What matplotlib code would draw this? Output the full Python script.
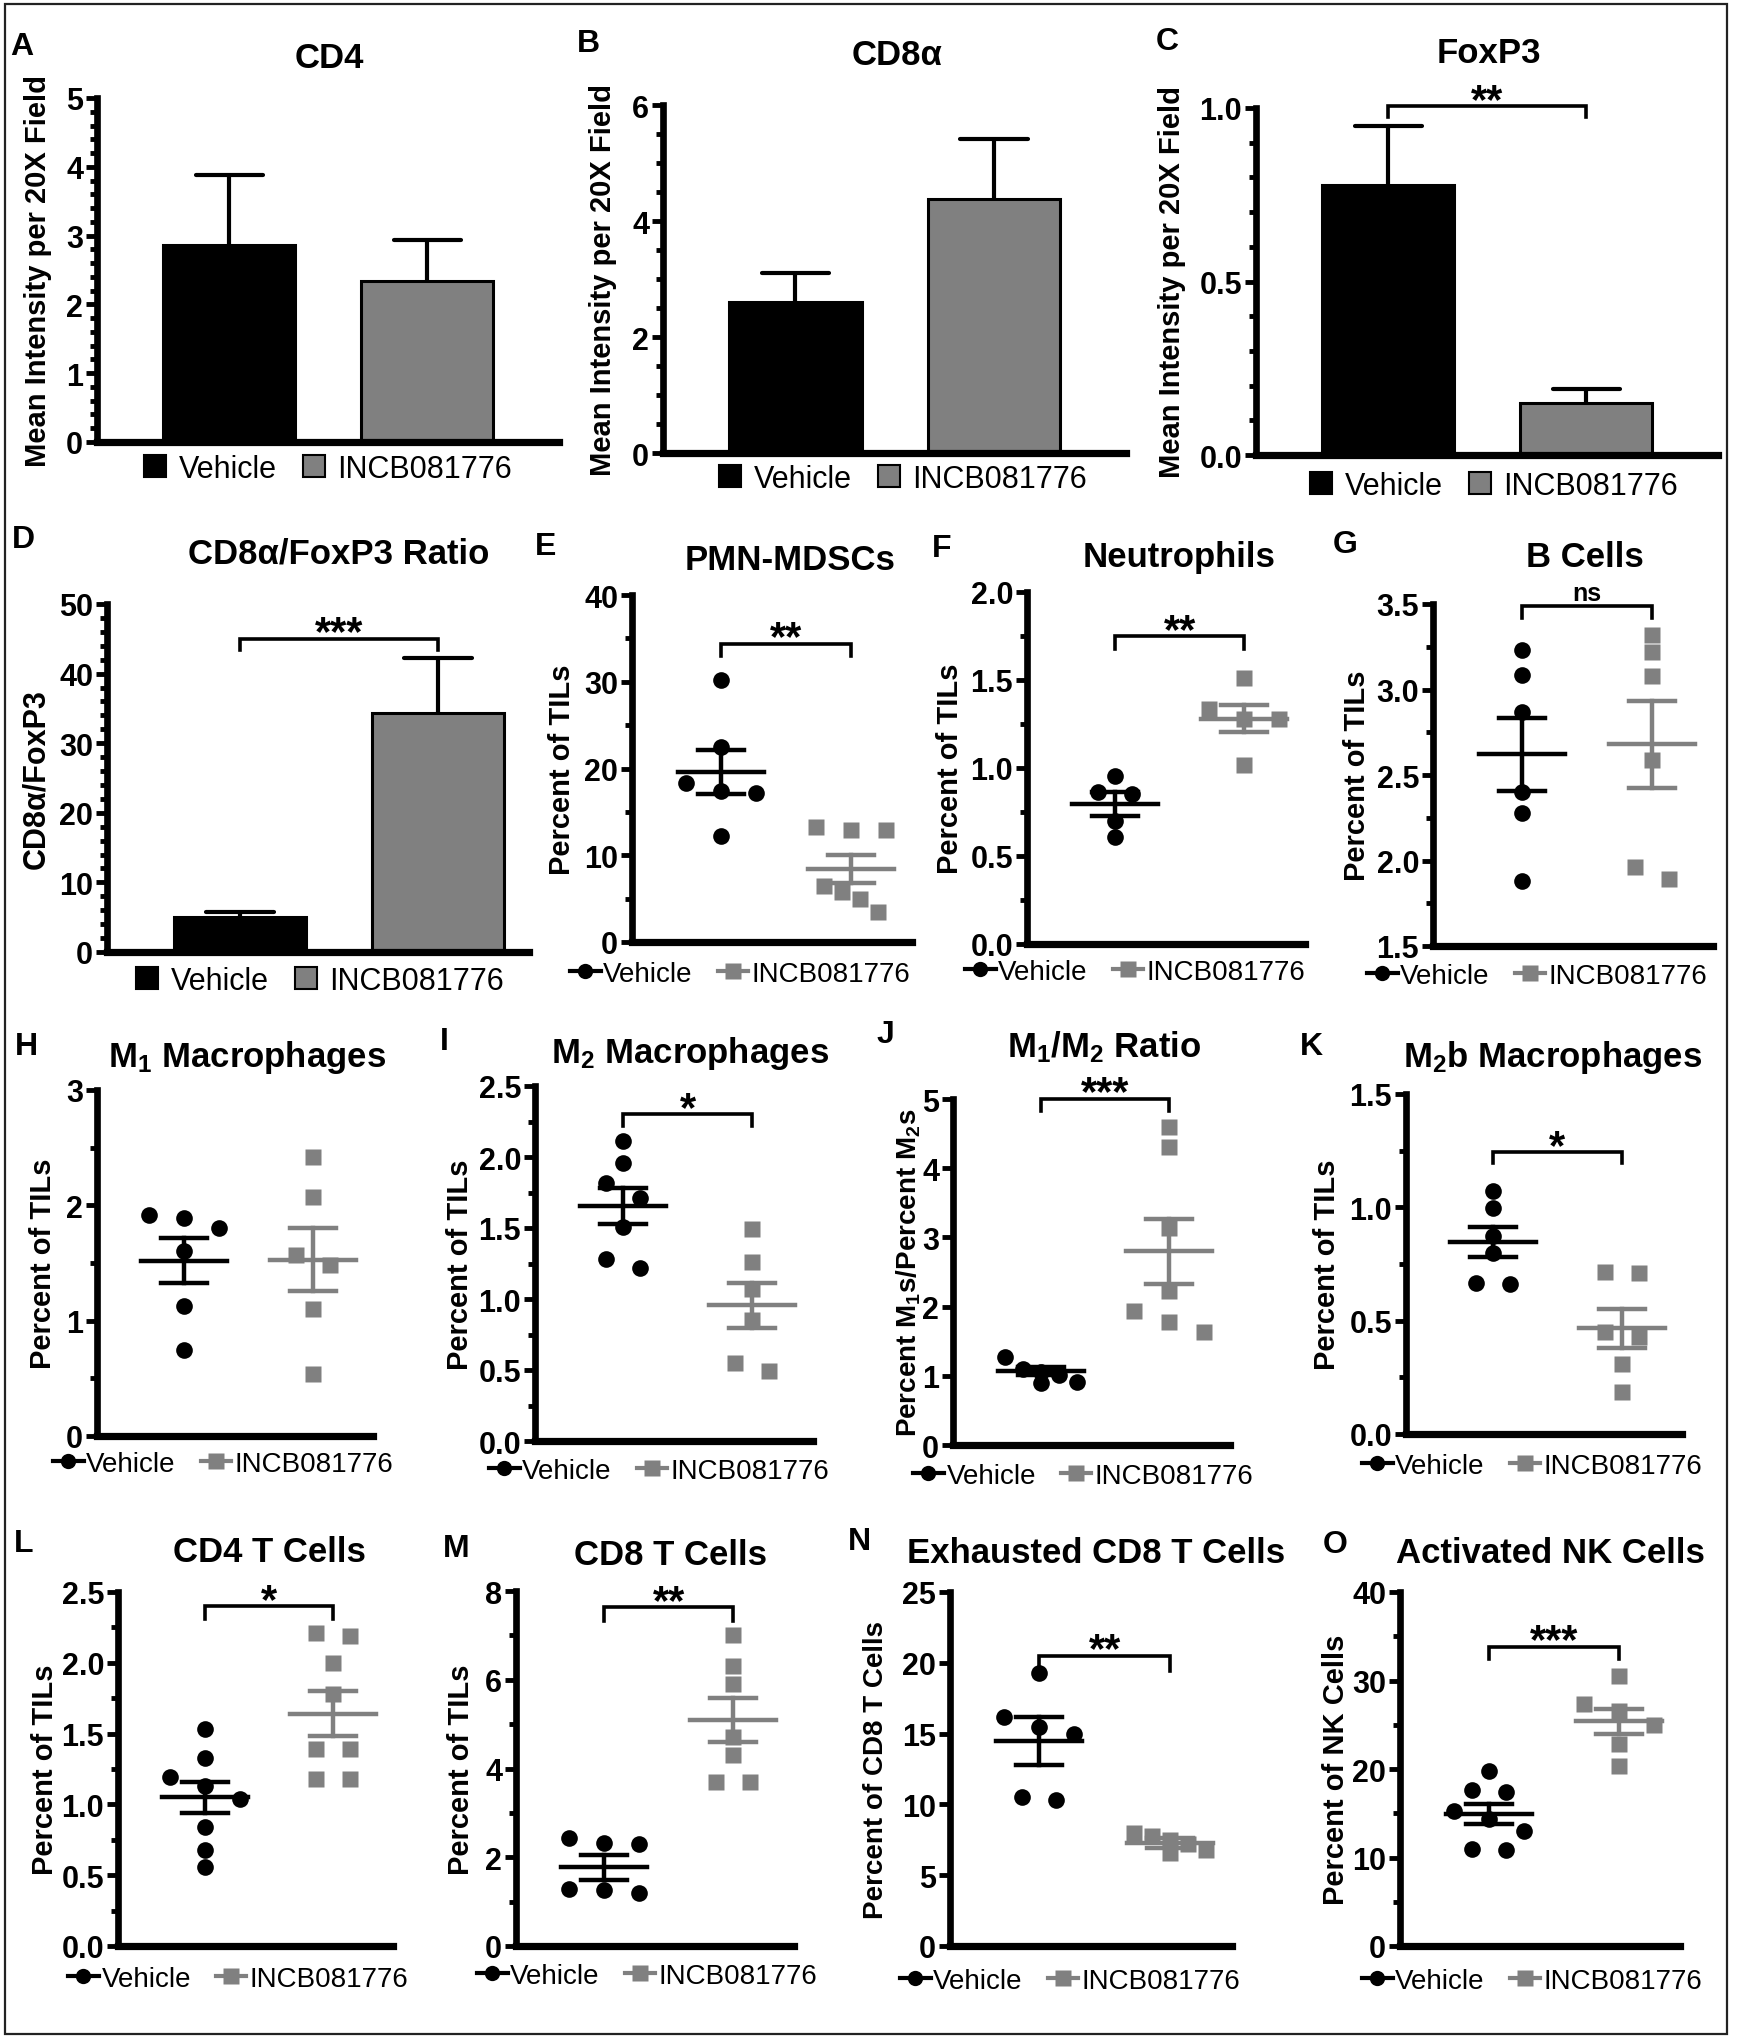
import numpy as np
import matplotlib
matplotlib.use('Agg')
import matplotlib.pyplot as plt
from matplotlib.lines import Line2D
from matplotlib.patches import Patch, Rectangle
from matplotlib.ticker import MultipleLocator, FormatStrFormatter

plt.rcParams['font.family'] = ['Liberation Sans', 'DejaVu Sans']
plt.rcParams['mathtext.fontset'] = 'custom'
plt.rcParams['mathtext.rm'] = 'Liberation Sans:bold'
plt.rcParams['mathtext.it'] = 'Liberation Sans:bold'
plt.rcParams['mathtext.bf'] = 'Liberation Sans:bold'
plt.rcParams['mathtext.default'] = 'rm'

W, H = 1749, 2040
GREY = '#808080'
groups = ['Vehicle', 'INCB081776']

# ---- bar panels (mean, SEM) ----
cd4_mean = [2.86, 2.34]
cd4_sem = [1.02, 0.60]
cd8a_mean = [2.61, 4.38]
cd8a_sem = [0.50, 1.03]
foxp3_mean = [0.779, 0.150]
foxp3_sem = [0.168, 0.040]
ratio_mean = [5.0, 34.4]
ratio_sem = [0.7, 7.9]

# ---- scatter panels (individual points, mean, SEM) ----
pmn_veh = [30.2, 22.5, 18.3, 17.4, 17.2, 12.2]
pmn_trt = [12.9, 13.2, 12.9, 6.5, 5.8, 5.0, 3.5]
pmn_mean = [19.6, 8.4]
pmn_sem = [2.5, 1.65]

neut_veh = [0.956, 0.862, 0.852, 0.70, 0.606]
neut_trt = [1.51, 1.335, 1.28, 1.28, 1.017]
neut_mean = [0.795, 1.28]
neut_sem = [0.068, 0.078]

bcell_veh = [3.23, 3.086, 2.87, 2.40, 2.275, 1.88]
bcell_trt = [3.32, 3.22, 3.08, 2.59, 1.96, 1.89]
bcell_mean = [2.62, 2.68]
bcell_sem = [0.215, 0.255]

m1_veh = [1.92, 1.89, 1.80, 1.60, 1.13, 0.75]
m1_trt = [2.42, 2.07, 1.57, 1.48, 1.10, 0.54]
m1_mean = [1.52, 1.53]
m1_sem = [0.195, 0.275]

m2_veh = [2.11, 1.955, 1.82, 1.71, 1.505, 1.28, 1.22]
m2_trt = [1.49, 1.26, 1.07, 0.85, 0.55, 0.49]
m2_mean = [1.655, 0.955]
m2_sem = [0.13, 0.16]

m1m2_veh = [1.27, 1.10, 1.06, 1.01, 0.906, 0.90]
m1m2_trt = [4.60, 4.30, 3.13, 2.23, 1.93, 1.78, 1.63]
m1m2_mean = [1.07, 2.80]
m1m2_sem = [0.055, 0.47]

m2b_veh = [1.074, 0.996, 0.875, 0.80, 0.665, 0.66]
m2b_trt = [0.715, 0.71, 0.45, 0.43, 0.31, 0.187]
m2b_mean = [0.849, 0.466]
m2b_sem = [0.066, 0.085]

cd4t_veh = [1.53, 1.33, 1.19, 1.13, 1.04, 0.84, 0.68, 0.56]
cd4t_trt = [2.21, 2.19, 2.0, 1.78, 1.39, 1.39, 1.18, 1.18]
cd4t_mean = [1.05, 1.64]
cd4t_sem = [0.11, 0.16]

cd8t_veh = [2.44, 2.33, 2.29, 1.28, 1.26, 1.20]
cd8t_trt = [7.0, 6.3, 5.9, 4.7, 4.3, 3.7, 3.7]
cd8t_mean = [1.77, 5.09]
cd8t_sem = [0.29, 0.50]

exh_veh = [19.3, 16.2, 15.5, 15.0, 10.5, 10.3]
exh_trt = [8.0, 7.8, 7.5, 7.2, 6.8, 6.6]
exh_mean = [14.5, 7.3]
exh_sem = [1.7, 0.35]

nk_veh = [19.8, 17.6, 17.4, 15.2, 14.3, 13.0, 11.0, 10.8]
nk_trt = [30.5, 27.3, 26.5, 25.0, 22.8, 20.3]
nk_mean = [14.9, 25.4]
nk_sem = [1.15, 1.4]

fig = plt.figure(figsize=(W / 100, H / 100), dpi=100)


def px_ax(x0, x1, yt, yb):
    return fig.add_axes([x0 / W, 1 - yb / H, (x1 - x0) / W, (yb - yt) / H])


def style(ax, ylim, major, minor, fmt):
    ax.set_ylim(*ylim)
    ax.set_yticks(np.arange(ylim[0], ylim[1] + major / 2, major))
    if minor:
        ax.yaxis.set_minor_locator(MultipleLocator(minor))
    ax.yaxis.set_major_formatter(FormatStrFormatter(fmt))
    ax.spines[['top', 'right']].set_visible(False)
    ax.spines['left'].set_linewidth(4.8)
    ax.spines['bottom'].set_linewidth(5.2)
    ax.set_xticks([])
    ax.tick_params(axis='y', which='major', length=8, width=3.5, labelsize=22, pad=2)
    ax.tick_params(axis='y', which='minor', length=5, width=3.5)
    for lab in ax.get_yticklabels():
        lab.set_fontweight('bold')
    ax.patch.set_alpha(0)


def bracket(ax, x0, x1, y, tip, text):
    ax.plot([x0, x0, x1, x1], [tip, y, y, tip], color='black', lw=2.6,
            clip_on=False, solid_joinstyle='miter')
    if text == 'ns':
        ax.annotate(text, xy=((x0 + x1) / 2, y), xytext=(0, 4), textcoords='offset points',
                    ha='center', va='baseline', fontsize=18, fontweight='bold',
                    annotation_clip=False)
    else:
        ax.annotate(text, xy=((x0 + x1) / 2, y), xytext=(0, -4), textcoords='offset points',
                    ha='center', va='baseline', fontsize=30, fontweight='bold',
                    annotation_clip=False)


def texts(p):
    fig.text(p['letter'][0] / W, 1 - p['letter'][1] / H, p['L'], fontsize=23,
             fontweight='bold', ha='left', va='baseline')
    fig.text(p['title'][0] / W, 1 - p['title'][1] / H, p['t'], fontsize=25,
             fontweight='bold', ha='center', va='baseline')
    x0, x1, yt, yb = p['box']
    fig.text(p['ylx'] / W, 1 - (yt + yb) / 2 / H, p['yl'], fontsize=p.get('yls', 21),
             fontweight='bold', rotation=90, ha='center', va='center')


def swarm(vals, ppu, d=16.0):
    vals = np.asarray(vals, float)
    order = np.argsort(-vals, kind='stable')
    rows, cur = [], [order[0]]
    for i in order[1:]:
        if (vals[cur[-1]] - vals[i]) * ppu < d and len(cur) < 5:
            cur.append(i)
        else:
            rows.append(cur)
            cur = [i]
    rows.append(cur)
    offs = np.zeros(len(vals))
    for row in rows:
        k = len(row)
        if k == 1:
            pos = [0]
        elif k == 2:
            pos = [-17, 17]
        elif k == 3:
            pos = [-35, 0, 35]
        else:
            pos = (np.arange(k) - (k - 1) / 2) * 18
        for i, q in zip(row, pos):
            offs[i] = q
    return offs


bar_panels = [
    dict(L='A', t='CD4', yl='Mean Intensity per 20X Field', box=(97, 559, 99, 443),
         means=cd4_mean, sems=cd4_sem, ylim=(0, 5), major=1, minor=0.2, fmt='%d',
         letter=(10, 55), title=(329, 68), ylx=38, leg=(328, 470), xlim=(-0.667, 1.664)),
    dict(L='B', t='CD8α', yl='Mean Intensity per 20X Field', box=(663, 1126, 106, 454),
         means=cd8a_mean, sems=cd8a_sem, ylim=(0, 6), major=2, minor=0.5, fmt='%d',
         letter=(577, 52), title=(897, 65), ylx=603, leg=(903, 480), xlim=(-0.667, 1.664)),
    dict(L='C', t='FoxP3', yl='Mean Intensity per 20X Field', box=(1256, 1718, 109, 456),
         means=foxp3_mean, sems=foxp3_sem, ylim=(0, 1.0), major=0.5, minor=0.1, fmt='%.1f',
         letter=(1156, 50), title=(1489, 63), ylx=1172, leg=(1494, 487), xlim=(-0.667, 1.664),
         br=(1.005, 0.974, '**')),
    dict(L='D', t='CD8α/FoxP3 Ratio', yl='CD8α/FoxP3', box=(107, 529, 605, 953),
         means=ratio_mean, sems=ratio_sem, ylim=(0, 50), major=10, minor=2, fmt='%d',
         letter=(12, 548), title=(339, 563), ylx=36, leg=(320, 982), xlim=(-0.672, 1.46),
         br=(45.0, 43.4, '***'), yls=22),
]

for p in bar_panels:
    x0, x1, yt, yb = p['box']
    ax = px_ax(x0, x1, yt, yb)
    pos = [0, 1]
    ax.bar(pos, p['means'], width=0.667, color=['black', GREY], edgecolor='black',
           linewidth=2.2, zorder=2)
    for q, m, s in zip(pos, p['means'], p['sems']):
        ax.plot([q, q], [m, m + s], color='black', lw=3, zorder=3, solid_capstyle='butt')
        ax.plot([q - 0.17, q + 0.17], [m + s, m + s], color='black', lw=3, zorder=3,
                solid_capstyle='round')
    ax.set_xlim(*p['xlim'])
    style(ax, p['ylim'], p['major'], p['minor'], p['fmt'])
    if 'br' in p:
        bracket(ax, 0, 1, *p['br'])
    handles = [Patch(facecolor='black', edgecolor='black', linewidth=1.5),
               Patch(facecolor=GREY, edgecolor='black', linewidth=1.5)]
    ax.legend(handles, groups, loc='center', bbox_to_anchor=(p['leg'][0] / W, 1 - p['leg'][1] / H),
              bbox_transform=fig.transFigure, ncol=2, frameon=False, fontsize=22,
              handlelength=0.72, handleheight=0.72, handletextpad=0.4, columnspacing=0.85,
              borderpad=0, borderaxespad=0)
    texts(p)

scatter_panels = [
    dict(L='E', t='PMN-MDSCs', yl='Percent of TILs', box=(632, 912, 596, 943),
         veh=pmn_veh, trt=pmn_trt, mean=pmn_mean, sem=pmn_sem, ylim=(0, 40), major=10,
         minor=5, fmt='%d', letter=(535, 555), title=(790, 570), ylx=562, leg=(740, 975),
         br=(34.4, 33.0, '**')),
    dict(L='F', t='Neutrophils', yl='Percent of TILs', box=(1027, 1305, 593, 945),
         veh=neut_veh, trt=neut_trt, mean=neut_mean, sem=neut_sem, ylim=(0, 2.0), major=0.5,
         minor=0.25, fmt='%.1f', letter=(932, 557), title=(1179, 567), ylx=950, leg=(1135, 973),
         br=(1.748, 1.676, '**')),
    dict(L='G', t='B Cells', yl='Percent of TILs', box=(1433, 1713, 605, 947),
         veh=bcell_veh, trt=bcell_trt, mean=bcell_mean, sem=bcell_sem, ylim=(1.5, 3.5),
         major=0.5, minor=0.25, fmt='%.1f', letter=(1333, 553), title=(1585, 567), ylx=1357,
         leg=(1537, 977), br=(3.49, 3.42, 'ns')),
    dict(L='H', t='M$_1$ Macrophages', yl='Percent of TILs', box=(97, 373, 1091, 1437),
         veh=m1_veh, trt=m1_trt, mean=m1_mean, sem=m1_sem, ylim=(0, 3), major=1, minor=0.5,
         fmt='%d', letter=(15, 1055), title=(247, 1067), ylx=43, leg=(223, 1465)),
    dict(L='I', t='M$_2$ Macrophages', yl='Percent of TILs', box=(535, 813, 1087, 1442),
         veh=m2_veh, trt=m2_trt, mean=m2_mean, sem=m2_sem, ylim=(0, 2.5), major=0.5,
         minor=0.25, fmt='%.1f', letter=(440, 1050), title=(690, 1063), ylx=460, leg=(659, 1472),
         br=(2.30, 2.22, '*')),
    dict(L='J', t='M$_1$/M$_2$ Ratio', yl='Percent M$_1$s/Percent M$_2$s', box=(953, 1230, 1100, 1446),
         veh=m1m2_veh, trt=m1m2_trt, mean=m1m2_mean, sem=m1m2_sem, ylim=(0, 5), major=1,
         minor=None, fmt='%d', letter=(877, 1043), title=(1104, 1057), ylx=909, leg=(1083, 1477),
         br=(5.0, 4.83, '***'), yls=20),
    dict(L='K', t='M$_2$b Macrophages', yl='Percent of TILs', box=(1406, 1682, 1095, 1435),
         veh=m2b_veh, trt=m2b_trt, mean=m2b_mean, sem=m2b_sem, ylim=(0, 1.5), major=0.5,
         minor=0.25, fmt='%.1f', letter=(1300, 1055), title=(1553, 1067), ylx=1327,
         leg=(1532, 1467), br=(1.243, 1.195, '*')),
    dict(L='L', t='CD4 T Cells', yl='Percent of TILs', box=(118, 393, 1593, 1947),
         veh=cd4t_veh, trt=cd4t_trt, mean=cd4t_mean, sem=cd4t_sem, ylim=(0, 2.5), major=0.5,
         minor=0.25, fmt='%.1f', letter=(14, 1552), title=(269, 1562), ylx=45, leg=(238, 1980),
         br=(2.40, 2.31, '*')),
    dict(L='M', t='CD8 T Cells', yl='Percent of TILs', box=(516, 794, 1592, 1947),
         veh=cd8t_veh, trt=cd8t_trt, mean=cd8t_mean, sem=cd8t_sem, ylim=(0, 8), major=2,
         minor=1, fmt='%d', letter=(443, 1557), title=(671, 1565), ylx=461, leg=(647, 1977),
         br=(7.63, 7.33, '**')),
    dict(L='N', t='Exhausted CD8 T Cells', yl='Percent of CD8 T Cells', box=(950, 1232, 1593, 1947),
         veh=exh_veh, trt=exh_trt, mean=exh_mean, sem=exh_sem, ylim=(0, 25), major=5,
         minor=None, fmt='%d', letter=(848, 1550), title=(1096, 1563), ylx=876, leg=(1070, 1982),
         br=(20.5, 19.4, '**'), yls=20),
    dict(L='O', t='Activated NK Cells', yl='Percent of NK Cells', box=(1400, 1680, 1593, 1947),
         veh=nk_veh, trt=nk_trt, mean=nk_mean, sem=nk_sem, ylim=(0, 40), major=10,
         minor=5, fmt='%d', letter=(1323, 1553), title=(1550, 1563), ylx=1336, leg=(1532, 1982),
         br=(33.8, 32.4, '***')),
]

XL = (-0.68, 1.47)
for p in scatter_panels:
    x0, x1, yt, yb = p['box']
    ax = px_ax(x0, x1, yt, yb)
    ax.set_xlim(*XL)
    dpp = (XL[1] - XL[0]) / (x1 - x0)          # data units per pixel (x)
    ppu = (yb - yt) / (p['ylim'][1] - p['ylim'][0])  # pixels per data unit (y)
    for g, vals, col, mk in [(0, p['veh'], 'black', 'o'), (1, p['trt'], GREY, 's')]:
        xs = g + swarm(vals, ppu) * dpp
        ax.plot(xs, vals, linestyle='none', marker=mk, ms=12, color=col, mec='none',
                zorder=2, clip_on=False)
        m, s = p['mean'][g], p['sem'][g]
        ax.plot([g - 43 * dpp, g + 43 * dpp], [m, m], color=col, lw=3.2, zorder=3)
        ax.plot([g - 23 * dpp, g + 23 * dpp], [m + s, m + s], color=col, lw=3.2, zorder=3)
        ax.plot([g - 23 * dpp, g + 23 * dpp], [m - s, m - s], color=col, lw=3.2, zorder=3)
        ax.plot([g, g], [m - s, m + s], color=col, lw=3.2, zorder=3)
    style(ax, p['ylim'], p['major'], p['minor'], p['fmt'])
    if 'br' in p:
        bracket(ax, 0, 1, *p['br'])
    handles = [Line2D([0], [0], color='black', lw=3, marker='o', ms=11, mec='none'),
               Line2D([0], [0], color=GREY, lw=3, marker='s', ms=11, mec='none')]
    ax.legend(handles, groups, loc='center', bbox_to_anchor=(p['leg'][0] / W, 1 - p['leg'][1] / H),
              bbox_transform=fig.transFigure, ncol=2, frameon=False, fontsize=20,
              handlelength=1.1, handletextpad=0.1, columnspacing=0.9,
              borderpad=0, borderaxespad=0)
    texts(p)

fig.patches.append(Rectangle((5 / W, 1 - 2035 / H), (1727 - 5) / W, (2035 - 5) / H,
                             transform=fig.transFigure, fill=False, lw=1.6, ec='#222222'))

fig.savefig('out.png', dpi=100)
